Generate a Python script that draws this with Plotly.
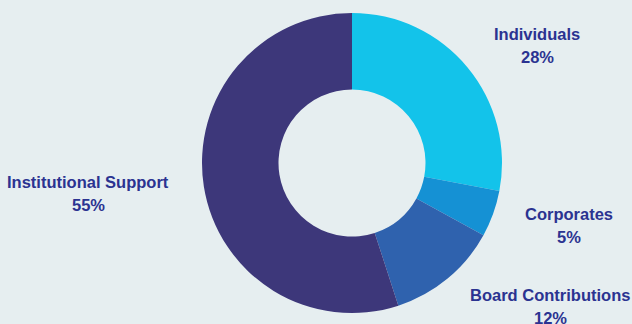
import plotly.graph_objects as go

labels = ["Individuals", "Corporates", "Board Contributions", "Institutional Support"]
values = [28, 5, 12, 55]
colors = ["#13c3ea", "#1591d4", "#2f62ae", "#3d377a"]
# label centre positions in pixels (x, y of first line)
label_pos = [(537, 34), (569, 214), (550, 295), (88, 182)]

W, H = 632, 324
cx, cy, r = 352, 163, 150
BG = "#e6eef0"

fig = go.Figure(go.Pie(
    labels=labels, values=values, hole=0.49, sort=False,
    direction="clockwise", rotation=0,
    marker=dict(colors=colors, line=dict(width=0)),
    textinfo="none", hoverinfo="label+percent",
    domain=dict(x=[(cx - r) / W, (cx + r) / W], y=[1 - (cy + r) / H, 1 - (cy - r) / H]),
    showlegend=False,
))

total = sum(values)
ann = []
for lab, val, (px, py) in zip(labels, values, label_pos):
    for i, t in enumerate([lab, f"{round(100 * val / total)}%"]):
        ann.append(dict(
            x=px / W, y=1 - (py + 23 * i) / H, xref="paper", yref="paper",
            text=f"<b>{t}</b>", showarrow=False, xanchor="center", yanchor="middle",
            font=dict(family="Liberation Sans, Arial, sans-serif", size=16.5, color="#2b3391"),
        ))

fig.update_layout(
    width=W, height=H, margin=dict(l=0, r=0, t=0, b=0),
    paper_bgcolor=BG, plot_bgcolor=BG,
    annotations=ann,
)
fig.write_html(
    "out.html",
    config={"displayModeBar": False},
    post_script=f"document.body.style.margin='0';document.body.style.background='{BG}';",
)
